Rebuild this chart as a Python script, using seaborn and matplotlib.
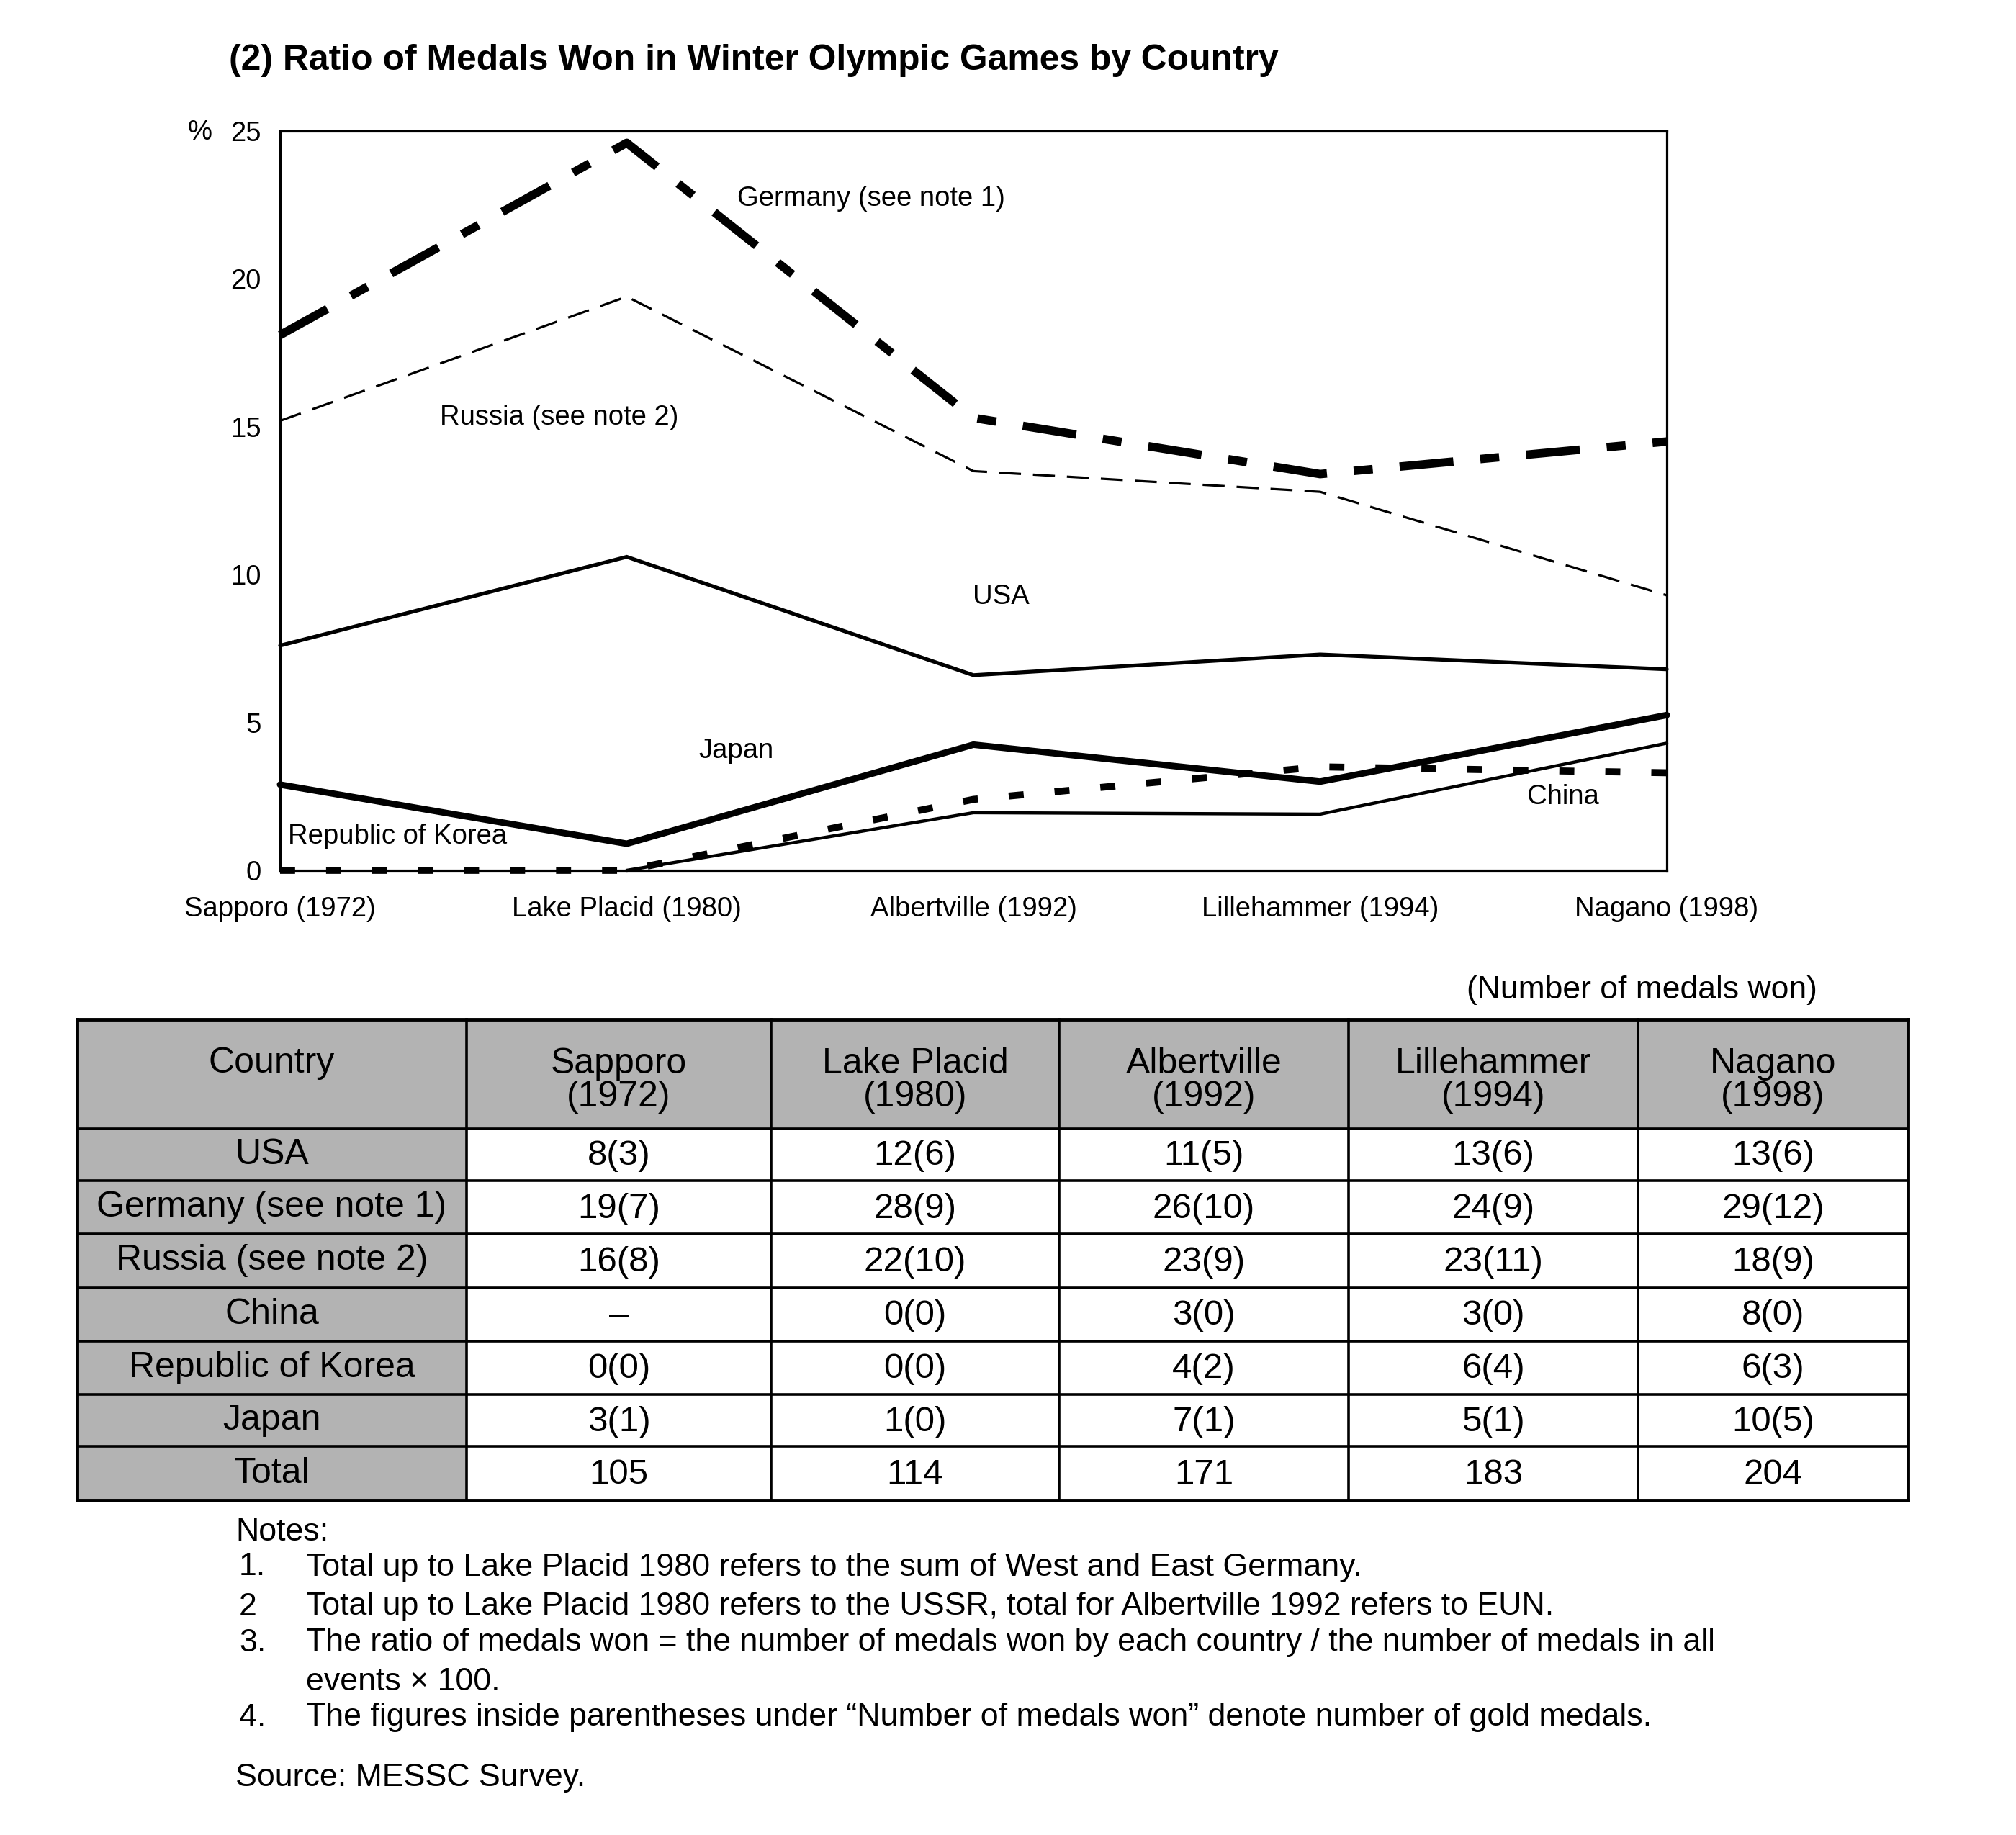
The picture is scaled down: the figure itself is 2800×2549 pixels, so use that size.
import matplotlib
matplotlib.use("Agg")
import numpy as np
import pandas as pd
import seaborn as sns
import matplotlib.pyplot as plt
from matplotlib.patches import Rectangle

# ---------------- data ----------------
games = ["Sapporo (1972)", "Lake Placid (1980)", "Albertville (1992)",
         "Lillehammer (1994)", "Nagano (1998)"]

# ratio of medals won (%)
germany_ratio = [18.1, 24.6, 15.3, 13.4, 14.5]
russia_ratio = [15.2, 19.4, 13.5, 12.8, 9.3]
usa_ratio = [7.6, 10.6, 6.6, 7.3, 6.8]
japan_ratio = [2.9, 0.9, 4.25, 3.0, 5.25]
korea_ratio = [0.0, 0.0, 2.4, 3.5, 3.3]
china_ratio = [np.nan, 0.0, 1.95, 1.9, 4.3]

# table: number of medals won (gold medals)
table_countries = ["USA", "Germany (see note 1)", "Russia (see note 2)", "China",
                   "Republic of Korea", "Japan", "Total"]
usa_medals = ["8(3)", "12(6)", "11(5)", "13(6)", "13(6)"]
germany_medals = ["19(7)", "28(9)", "26(10)", "24(9)", "29(12)"]
russia_medals = ["16(8)", "22(10)", "23(9)", "23(11)", "18(9)"]
china_medals = ["\u2013", "0(0)", "3(0)", "3(0)", "8(0)"]
korea_medals = ["0(0)", "0(0)", "4(2)", "6(4)", "6(3)"]
japan_medals = ["3(1)", "1(0)", "7(1)", "5(1)", "10(5)"]
total_medals = ["105", "114", "171", "183", "204"]

title = "(2) Ratio of Medals Won in Winter Olympic Games by Country"
notes = [
    ("1.", "Total up to Lake Placid 1980 refers to the sum of West and East Germany."),
    ("2", "Total up to Lake Placid 1980 refers to the USSR, total for Albertville 1992 refers to EUN."),
    ("3.", "The ratio of medals won = the number of medals won by each country / the number of medals in all"),
    ("", "events \u00d7 100."),
    ("4.", "The figures inside parentheses under \u201cNumber of medals won\u201d denote number of gold medals."),
]

# ---------------- style ----------------
sns.set_theme(style="white")
plt.rcParams["font.family"] = ["Liberation Sans", "DejaVu Sans"]
plt.rcParams["lines.scale_dashes"] = False
plt.rcParams["text.color"] = "black"

W, H = 2800, 2549
fig = plt.figure(figsize=(W / 100, H / 100), dpi=100)
fig.patch.set_facecolor("white")


def fx(px):
    return px / W


def fy(py):
    return 1 - py / H


# ---------------- chart ----------------
ax = fig.add_axes([fx(389), fy(1209), fx(2315) - fx(389), fy(182) - fy(1209)])
xpos = list(range(len(games)))

series = [
    (germany_ratio, dict(linewidth=8.5, linestyle=(0, (54, 27, 19, 27)))),
    (russia_ratio, dict(linewidth=2.3, linestyle=(0, (22, 12)))),
    (usa_ratio, dict(linewidth=3.8, linestyle="-")),
    (japan_ratio, dict(linewidth=6.5, linestyle="-")),
    (korea_ratio, dict(linewidth=7, linestyle=(0, (15, 31)))),
    (china_ratio, dict(linewidth=3.2, linestyle="-")),
]
for vals, kw in series:
    df = pd.DataFrame({"x": xpos, "y": vals}).dropna()
    sns.lineplot(data=df, x="x", y="y", ax=ax, color="black", errorbar=None,
                 legend=False, clip_on=False, dash_capstyle="butt",
                 solid_joinstyle="miter", **kw)

ax.set_xlim(0, 4)
ax.set_ylim(0, 25)
ax.set_xticks(xpos)
ax.set_xticklabels(games)
ax.set_yticks([0, 5, 10, 15, 20, 25])
ax.set_xlabel("")
ax.set_ylabel("")
ax.tick_params(axis="x", direction="in", length=9, width=2, pad=26,
               labelsize=27.5, colors="black")
ax.tick_params(axis="y", direction="out", length=7, width=2, pad=12,
               labelsize=27.5, colors="black")
for s in ax.spines.values():
    s.set_color("black")
    s.set_linewidth(2.3)
    s.set_visible(True)

lab = dict(fontsize=27.5, va="center", color="black")
ax.text(1.318, 22.7, "Germany (see note 1)", ha="left", **lab)
ax.text(0.461, 15.3, "Russia (see note 2)", ha="left", **lab)
ax.text(2.08, 9.25, "USA", ha="center", **lab)
ax.text(1.315, 4.04, "Japan", ha="center", **lab)
ax.text(0.023, 1.14, "Republic of Korea", ha="left", **lab)
ax.text(3.70, 2.48, "China", ha="center", **lab)

fig.text(fx(278), fy(184), "%", ha="center", va="center", fontsize=27.5)
fig.text(fx(318), fy(84), title, ha="left", va="center", fontsize=35.8,
         fontweight="bold")

# ---------------- table ----------------
tax = fig.add_axes([0, 0, 1, 1])
tax.set_xlim(0, W)
tax.set_ylim(H, 0)
tax.axis("off")

cols = [107, 648, 1071, 1471, 1873, 2275, 2650]
rows = [1416, 1568, 1640, 1714, 1789, 1863, 1937, 2009, 2084]
grey = "#b3b3b3"
tax.add_patch(Rectangle((cols[0], rows[0]), cols[-1] - cols[0], rows[1] - rows[0],
                        facecolor=grey, edgecolor="none", zorder=1))
tax.add_patch(Rectangle((cols[0], rows[1]), cols[1] - cols[0], rows[-1] - rows[1],
                        facecolor=grey, edgecolor="none", zorder=1))
for i, r in enumerate(rows):
    lw = 3.5 if i in (0, len(rows) - 1) else 2.6
    tax.plot([cols[0], cols[-1]], [r, r], color="black", lw=lw, zorder=3,
             solid_capstyle="projecting")
for j, c in enumerate(cols):
    lw = 3.5 if j in (0, len(cols) - 1) else 2.6
    tax.plot([c, c], [rows[0], rows[-1]], color="black", lw=lw, zorder=3,
             solid_capstyle="projecting")

hfs = 36
nfs_t = 35.5
tax.text((cols[0] + cols[1]) / 2, 1477, "Country", ha="center", va="center",
         fontsize=hfs, zorder=4)
for j, g in enumerate(games):
    cx = (cols[j + 1] + cols[j + 2]) / 2
    tax.text(cx, 1501, g.replace(" (", "\n("), ha="center", va="center",
             fontsize=hfs, linespacing=0.98, zorder=4)

all_rows = [usa_medals, germany_medals, russia_medals, china_medals,
            korea_medals, japan_medals, total_medals]
for i, (name, vals) in enumerate(zip(table_countries, all_rows)):
    cy = (rows[i + 1] + rows[i + 2]) / 2
    tax.text((cols[0] + cols[1]) / 2, cy, name, ha="center", va="center",
             fontsize=hfs, zorder=4)
    for j, v in enumerate(vals):
        cx = (cols[j + 1] + cols[j + 2]) / 2
        tax.text(cx, cy + 2, v, ha="center", va="center", fontsize=nfs_t, zorder=4)

tax.text(2280, 1375, "(Number of medals won)", ha="center", va="center",
         fontsize=32)

# ---------------- notes ----------------
nfs = 32.2
tax.text(327, 2129, "Notes:", ha="left", va="center", fontsize=nfs)
note_y = [2177, 2232, 2282, 2336, 2386]
for (num, txt), yy in zip(notes, note_y):
    if num:
        tax.text(332, yy, num, ha="left", va="center", fontsize=nfs)
    tax.text(425, yy, txt, ha="left", va="center", fontsize=nfs)
tax.text(327, 2470, "Source: MESSC Survey.", ha="left", va="center", fontsize=nfs)

fig.savefig("out.png", dpi=100, facecolor="white")
